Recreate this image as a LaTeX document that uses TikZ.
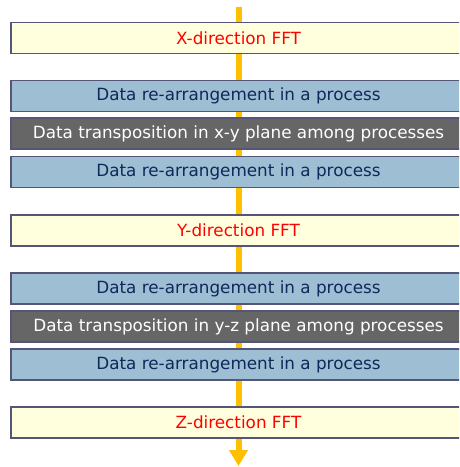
\documentclass[tikz,border=0pt]{standalone}
\usepackage{fontspec}
\setmainfont{DejaVu Sans}
\usetikzlibrary{arrows.meta, backgrounds}
\definecolor{fftfill}{HTML}{FFFFDD}
\definecolor{rearrfill}{HTML}{9EBED4}
\definecolor{rearrtext}{HTML}{10285A}
\definecolor{transfill}{HTML}{666666}
\definecolor{boxline}{HTML}{555577}
\definecolor{flowline}{HTML}{FFC000}

\begin{document}
\begin{tikzpicture}[x=1pt, y=-1pt,
  box/.style={draw=boxline, line width=1.5pt, minimum width=455pt,
              minimum height=31pt, inner sep=0pt,
              font=\fontsize{16.8}{18}\selectfont},
  fft/.style={box, fill=fftfill, text=red},
  rearr/.style={box, fill=rearrfill, text=rearrtext},
  trans/.style={box, fill=transfill, text=white},
  flow/.style={draw=flowline, line width=6pt},
  tipflow/.style={flow, -{Triangle[width=18pt, length=16pt]}}
]
\useasboundingbox (0,0) rectangle (459,467);
\clip (0,0) rectangle (459,467);
% ----- steps -----
\node[fft]   (xfft)    at (238.5,38)    {X-direction FFT};
\node[rearr] (rearr1)  at (238.5,96)    {Data re-arrangement in a process};
\node[trans] (transxy) at (238.5,133.5) {Data transposition in x-y plane among processes};
\node[rearr] (rearr2)  at (238.5,172)   {Data re-arrangement in a process};
\node[fft]   (yfft)    at (238.5,230.5) {Y-direction FFT};
\node[rearr] (rearr3)  at (238.5,288.5) {Data re-arrangement in a process};
\node[trans] (transyz) at (238.5,326.5) {Data transposition in y-z plane among processes};
\node[rearr] (rearr4)  at (238.5,364.5) {Data re-arrangement in a process};
\node[fft]   (zfft)    at (238.5,422.5) {Z-direction FFT};
% ----- flow line -----
\coordinate (top) at (238.5,7);
\coordinate (tip) at (238.5,466);
\begin{scope}[on background layer]
  \draw[flow] (top) -- (xfft);
  \foreach \a/\b in {xfft/rearr1, rearr1/transxy, transxy/rearr2, rearr2/yfft,
                     yfft/rearr3, rearr3/transyz, transyz/rearr4, rearr4/zfft}
    \draw[flow] (\a) -- (\b);
  \draw[tipflow] (zfft) -- (tip);
\end{scope}
\end{tikzpicture}
\end{document}
